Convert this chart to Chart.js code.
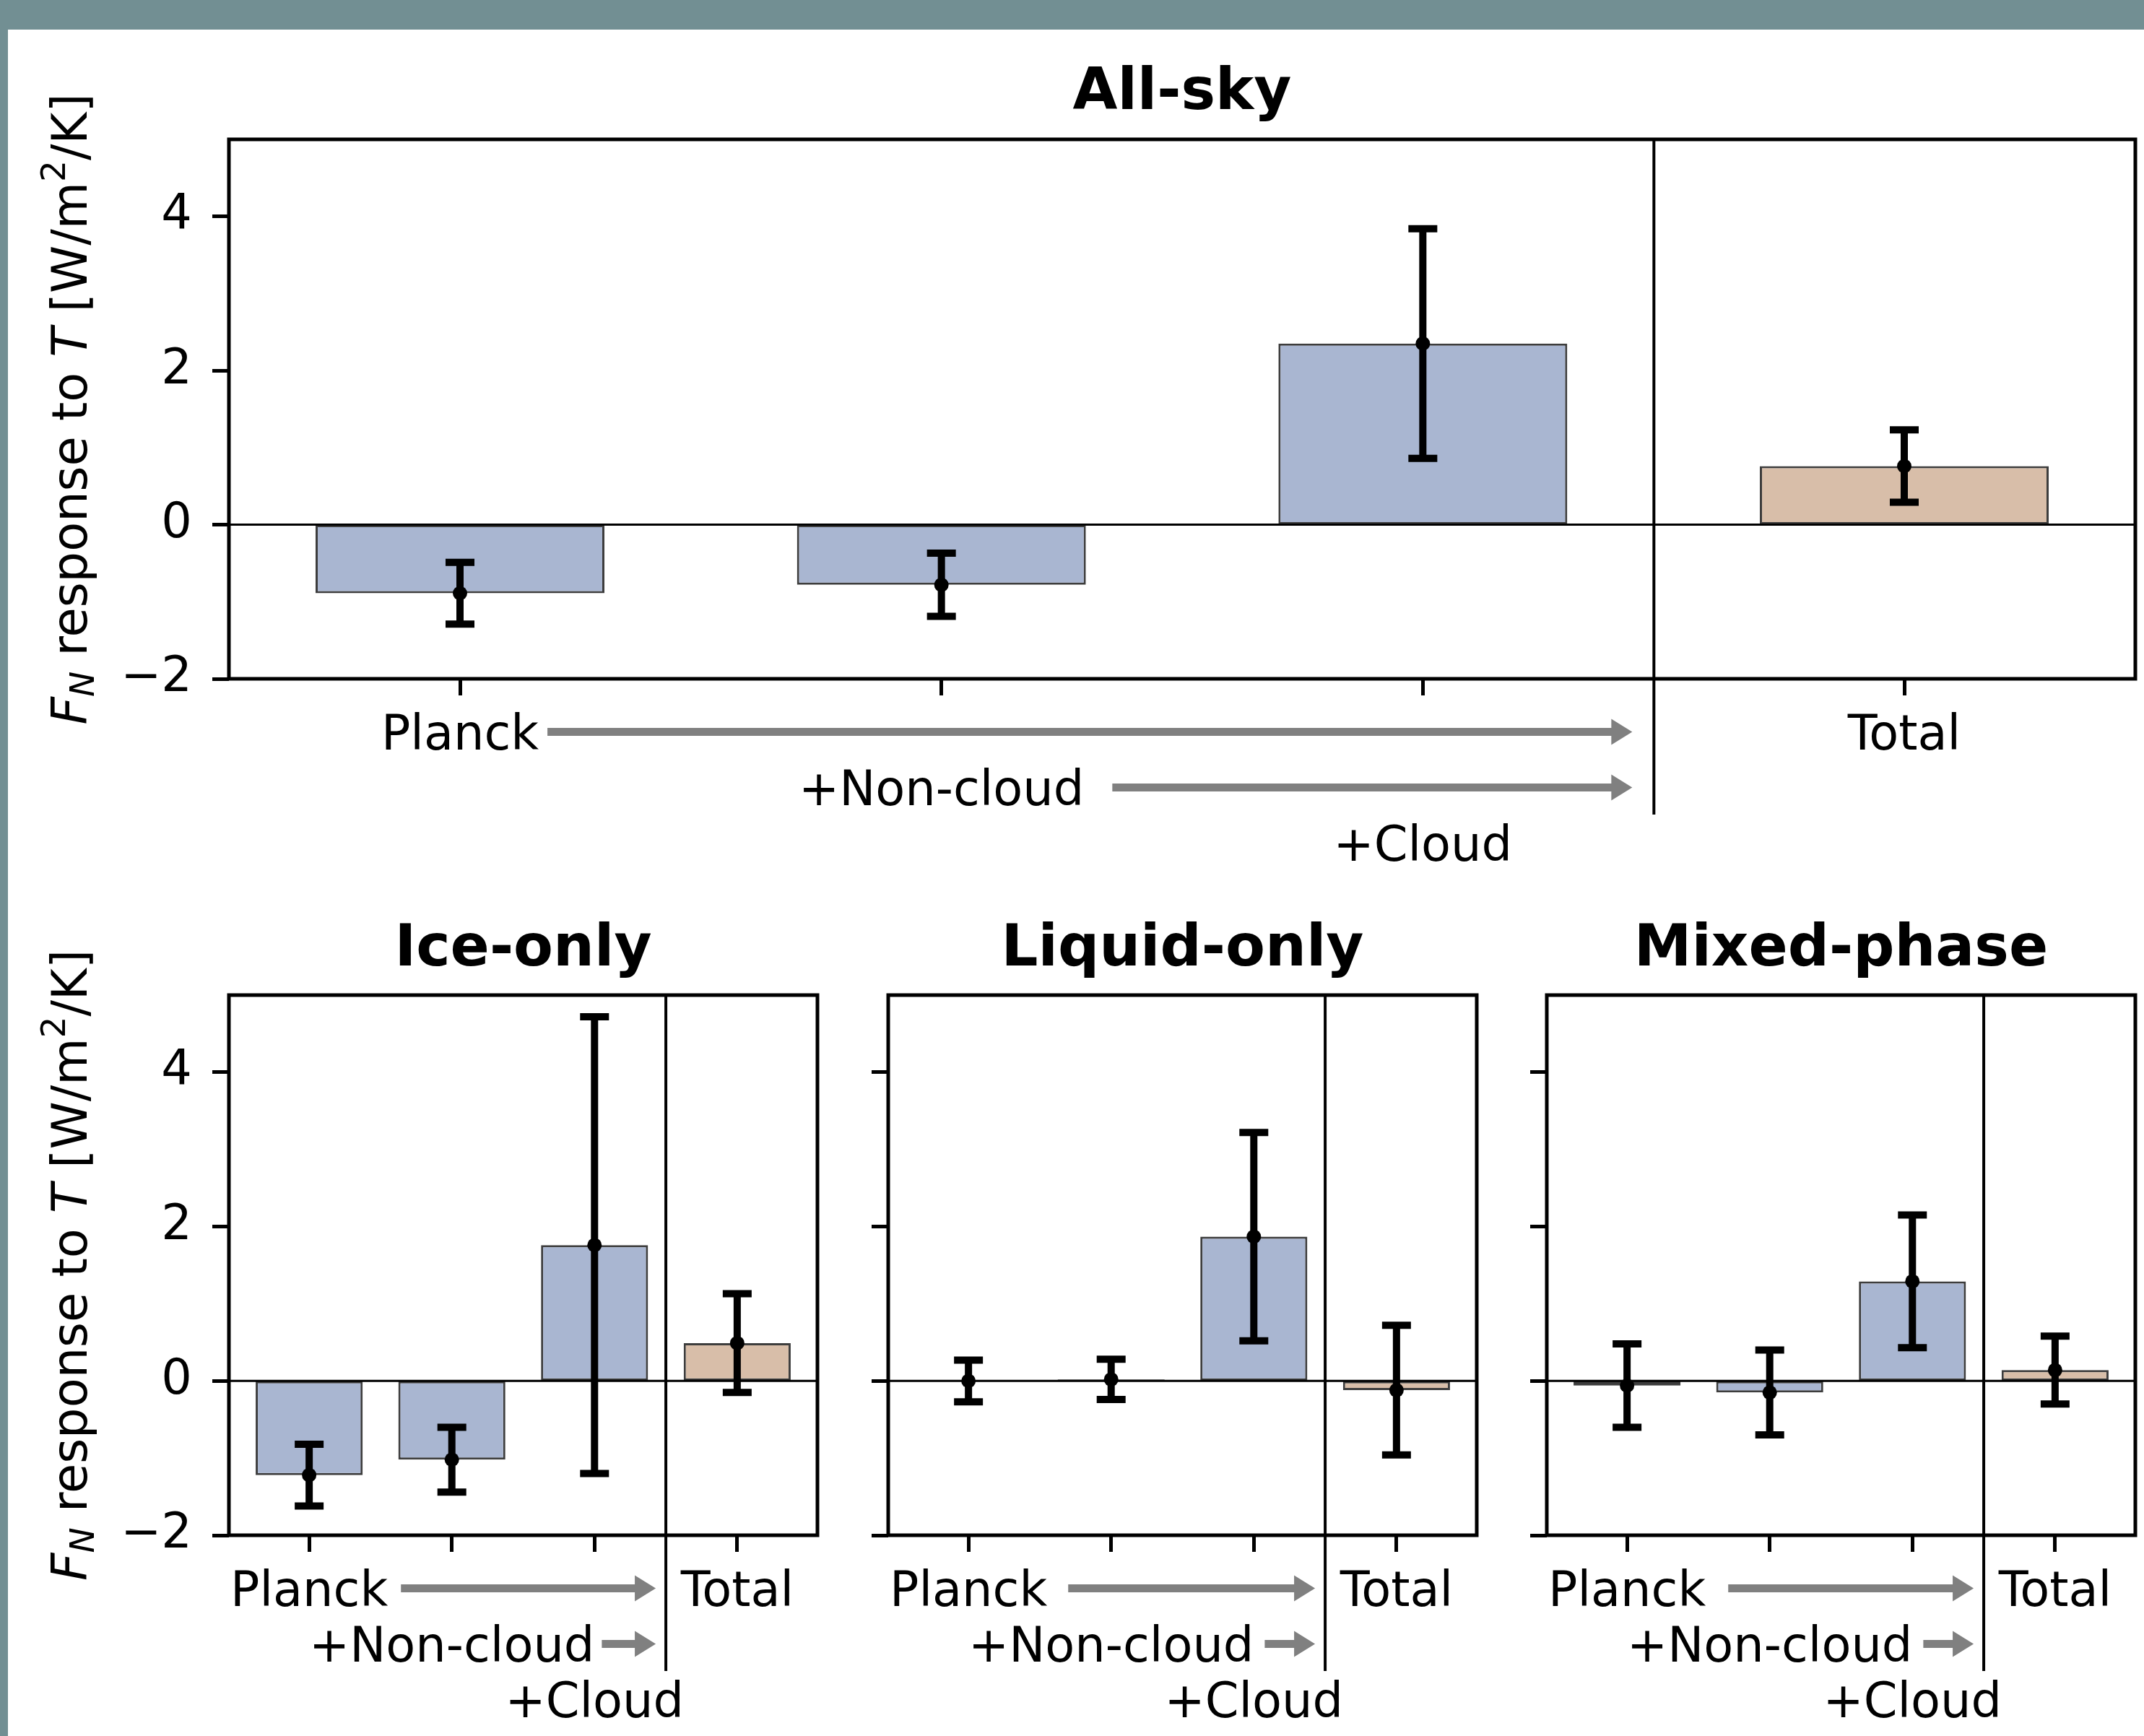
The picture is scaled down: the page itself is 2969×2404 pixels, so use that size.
<!DOCTYPE html>
<html lang="en">
<head>
    <meta charset="UTF-8">
    <title>F_N response to T</title>
    <script src="https://cdn.jsdelivr.net/npm/chart.js"></script>
    <style>
        html, body { margin: 0; padding: 0; overflow: hidden; }
        body { width: 2969px; height: 2404px; background: #728f93; position: relative; }
        /* white sheet, teal frame on top and left */
        .sheet { position: absolute; left: 11px; top: 41px; width: 2958px; height: 2363px; background: #fff; }
        canvas { position: absolute; }
    </style>
</head>
<body>
    <div class="sheet"></div>
    <canvas id="allSky" width="2958" height="1200" style="left:11px;top:41px;width:2958px;height:1200px"></canvas>
    <canvas id="iceOnly" width="1133" height="1163" style="left:11px;top:1241px;width:1133px;height:1163px"></canvas>
    <canvas id="liquidOnly" width="1133" height="1163" style="left:924px;top:1241px;width:1133px;height:1163px"></canvas>
    <canvas id="mixedPhase" width="1133" height="1163" style="left:1836px;top:1241px;width:1133px;height:1163px"></canvas>

    <script>
        // categories and tick labels
        const steps = ['Planck', '+Non-cloud', '+Cloud', 'Total'];
        const yTicks = [-2, 0, 2, 4];

        // mean response and error (W/m2/K)
        const allSkyMean = [-0.89, -0.78, 2.35, 0.76];
        const allSkyErr  = [0.40, 0.41, 1.49, 0.47];
        const iceMean    = [-1.22, -1.02, 1.76, 0.49];
        const iceErr     = [0.40, 0.42, 2.96, 0.64];
        const liquidMean = [0.00, 0.02, 1.87, -0.12];
        const liquidErr  = [0.27, 0.26, 1.35, 0.84];
        const mixedMean  = [-0.06, -0.15, 1.29, 0.14];
        const mixedErr   = [0.54, 0.55, 0.86, 0.44];

        const FAMILY = '"DejaVu Sans"';
        const stepColor = '#a9b6d1';
        const totalColor = '#d8bea9';
        const arrowGrey = '#808080';
        const TICK_LEN = 23, TICK_PAD = 19, LINE_H = 77;

        function drawArrow(ctx, x0, x1, y) {
            const head = 29, half = 18, shaft = 5.5;
            ctx.fillStyle = arrowGrey;
            ctx.beginPath();
            ctx.moveTo(x0, y - shaft);
            ctx.lineTo(x1 - head, y - shaft);
            ctx.lineTo(x1 - head, y - half);
            ctx.lineTo(x1, y);
            ctx.lineTo(x1 - head, y + half);
            ctx.lineTo(x1 - head, y + shaft);
            ctx.lineTo(x0, y + shaft);
            ctx.closePath();
            ctx.fill();
        }

        // y label with mathtext-like pieces: $F_N$ response to $T$ [W/m$^2$/K]
        function drawYTitle(ctx, bx, cy) {
            const big = 67, small = 47;
            const segs = [
                {t: 'F', f: `italic ${big}px ${FAMILY}`, dy: 0},
                {t: 'N', f: `italic ${small}px ${FAMILY}`, dy: 10},
                {t: ' response to ', f: `${big}px ${FAMILY}`, dy: 0},
                {t: 'T', f: `italic ${big}px ${FAMILY}`, dy: 0},
                {t: ' [W/m', f: `${big}px ${FAMILY}`, dy: 0},
                {t: '2', f: `${small}px ${FAMILY}`, dy: -30},
                {t: '/K]', f: `${big}px ${FAMILY}`, dy: 0}
            ];
            let total = 0;
            segs.forEach(s => { ctx.font = s.f; s.w = ctx.measureText(s.t).width; total += s.w; });
            ctx.save();
            ctx.translate(bx, cy);
            ctx.rotate(-Math.PI / 2);
            ctx.fillStyle = '#000';
            ctx.textBaseline = 'alphabetic';
            ctx.textAlign = 'left';
            let x = -total / 2;
            segs.forEach(s => { ctx.font = s.f; ctx.fillText(s.t, x, s.dy); x += s.w; });
            ctx.restore();
        }

        function makePanel(id, title, mean, err, opt) {
            const barW = opt.barWidth;
            const margin = 0.05 * (steps.length - 1 + barW);
            const xMin = -barW / 2 - margin;
            const xMax = steps.length - 1 + barW / 2 + margin;

            const decor = {
                id: 'decor',
                afterDatasetsDraw(chart) {
                    const {ctx, chartArea: a, scales: {x, y}} = chart;
                    ctx.save();
                    ctx.strokeStyle = '#000';

                    // zero line
                    const y0 = y.getPixelForValue(0);
                    ctx.lineWidth = 3;
                    ctx.beginPath(); ctx.moveTo(a.left, y0); ctx.lineTo(a.right, y0); ctx.stroke();

                    // divider between the steps and Total, running down into the labels
                    const xd = x.getPixelForValue(opt.divider);
                    ctx.lineWidth = 4;
                    ctx.beginPath(); ctx.moveTo(xd, a.top); ctx.lineTo(xd, a.bottom + 188); ctx.stroke();

                    // error bars
                    ctx.lineWidth = 10;
                    ctx.fillStyle = '#000';
                    mean.forEach((m, i) => {
                        const px = x.getPixelForValue(i);
                        const hi = y.getPixelForValue(m + err[i]);
                        const lo = y.getPixelForValue(m - err[i]);
                        ctx.beginPath();
                        ctx.moveTo(px, hi); ctx.lineTo(px, lo);
                        ctx.moveTo(px - 20, hi); ctx.lineTo(px + 20, hi);
                        ctx.moveTo(px - 20, lo); ctx.lineTo(px + 20, lo);
                        ctx.stroke();
                        ctx.beginPath();
                        ctx.arc(px, y.getPixelForValue(m), 10, 0, 2 * Math.PI);
                        ctx.fill();
                    });

                    // frame
                    ctx.lineWidth = 5;
                    ctx.strokeRect(a.left, a.top, a.width, a.height);

                    // arrows after Planck and +Non-cloud
                    ctx.font = `67px ${FAMILY}`;
                    const tip = xd - opt.tipGap;
                    [0, 1].forEach(r => {
                        const px = x.getPixelForValue(r);
                        const start = px + ctx.measureText(steps[r]).width / 2 + opt.gaps[r];
                        const ry = x.top + TICK_LEN + TICK_PAD + LINE_H / 2 + r * LINE_H - 7;
                        drawArrow(ctx, start, tip, ry);
                    });
                    ctx.restore();
                },
                afterDraw(chart) {
                    if (!opt.showY) return;
                    const a = chart.chartArea;
                    drawYTitle(chart.ctx, 109, (a.top + a.bottom) / 2);
                }
            };

            const tickGrid = {
                offset: false,
                drawOnChartArea: false,
                drawTicks: true,
                tickLength: TICK_LEN,
                tickWidth: 5,
                tickColor: '#000'
            };

            return new Chart(document.getElementById(id), {
                type: 'bar',
                data: {
                    datasets: [{
                        data: mean.map((v, i) => ({x: i, y: v})),
                        backgroundColor: mean.map((v, i) => i === steps.length - 1 ? totalColor : stepColor),
                        borderColor: '#3d3d3d',
                        borderWidth: 3,
                        borderSkipped: false,
                        barPercentage: barW,
                        categoryPercentage: 1
                    }]
                },
                options: {
                    responsive: false,
                    animation: false,
                    devicePixelRatio: 1,
                    layout: {padding: {left: 0, right: 12, top: 0, bottom: 0}},
                    plugins: {
                        legend: {display: false},
                        tooltip: {enabled: false},
                        title: {
                            display: true,
                            text: title,
                            fullSize: false,
                            color: '#000',
                            font: {family: 'DejaVu Sans', size: 80, weight: 'bold', lineHeight: 1.2},
                            padding: {top: opt.titleTop, bottom: opt.titleBottom}
                        }
                    },
                    scales: {
                        x: {
                            type: 'linear',
                            min: xMin,
                            max: xMax,
                            offset: false,
                            afterBuildTicks: s => { s.ticks = steps.map((_, i) => ({value: i})); },
                            afterFit: s => { s.height = opt.xAxisHeight; },
                            grid: tickGrid,
                            border: {display: false},
                            ticks: {
                                autoSkip: false,
                                maxRotation: 0,
                                minRotation: 0,
                                padding: TICK_PAD,
                                color: '#000',
                                font: {family: 'DejaVu Sans', size: 67, lineHeight: LINE_H / 67},
                                callback: v => {
                                    const i = Math.round(v);
                                    const row = i < steps.length - 1 ? i : 0;
                                    return Array(row).fill('').concat(steps[i]);
                                }
                            }
                        },
                        y: {
                            min: -2,
                            max: 5,
                            afterBuildTicks: s => { s.ticks = yTicks.map(v => ({value: v})); },
                            afterFit: s => { s.width = 306; },
                            grid: tickGrid,
                            border: {display: false},
                            ticks: {
                                display: opt.showY,
                                padding: 28,
                                color: '#000',
                                font: {family: 'DejaVu Sans', size: 67},
                                callback: v => String(v).replace('-', '\u2212')
                            }
                        }
                    }
                },
                plugins: [decor]
            });
        }

        makePanel('allSky', 'All-sky', allSkyMean, allSkyErr, {
            barWidth: 0.6, divider: 2.48, tipGap: 30, gaps: [12, 39],
            titleTop: 41, titleBottom: 15, xAxisHeight: 301, showY: true
        });
        makePanel('iceOnly', 'Ice-only', iceMean, iceErr, {
            barWidth: 0.75, divider: 2.5, tipGap: 14, gaps: [18, 10],
            titleTop: 27, titleBottom: 14, xAxisHeight: 278, showY: true
        });
        makePanel('liquidOnly', 'Liquid-only', liquidMean, liquidErr, {
            barWidth: 0.75, divider: 2.5, tipGap: 14, gaps: [29, 15],
            titleTop: 27, titleBottom: 14, xAxisHeight: 278, showY: false
        });
        makePanel('mixedPhase', 'Mixed-phase', mixedMean, mixedErr, {
            barWidth: 0.75, divider: 2.5, tipGap: 14, gaps: [31, 15],
            titleTop: 27, titleBottom: 14, xAxisHeight: 278, showY: false
        });
    </script>
</body>
</html>
